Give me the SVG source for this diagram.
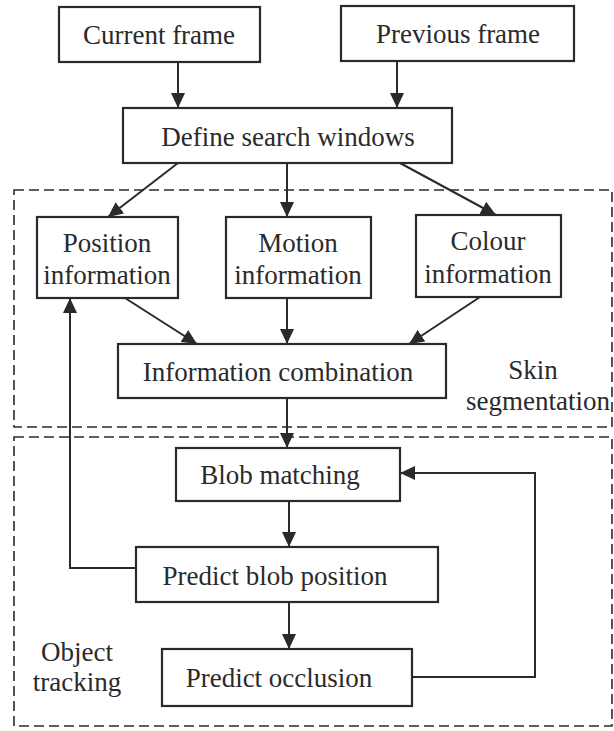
<svg xmlns="http://www.w3.org/2000/svg" width="614" height="731" viewBox="0 0 614 731">
<style>
.box{fill:#fff;stroke:#2a2a2a;stroke-width:2.2}
.t{font-family:"Liberation Serif","Times New Roman",serif;font-size:27px;fill:#2a2a2a;text-anchor:middle}
.c{fill:none;stroke:#2a2a2a;stroke-width:2}
.region{fill:none;stroke:#2a2a2a;stroke-width:1.6;stroke-dasharray:10 5}
</style>
<defs>
<marker id="ah" markerUnits="userSpaceOnUse" markerWidth="16" markerHeight="14" refX="15" refY="7" orient="auto">
<path d="M0,0 L15,7 L0,14 Z" fill="#2a2a2a"/>
</marker>
</defs>
<g id="regions">
<rect id="skin-region" class="region" x="14" y="190" width="598" height="237"/>
<rect id="tracking-region" class="region" x="14" y="437" width="598" height="289"/>
<text class="t" x="533" y="379">Skin</text>
<text class="t" x="538" y="410">segmentation</text>
<text class="t" x="77" y="661">Object</text>
<text class="t" x="77" y="691">tracking</text>
</g>
<g id="connectors">
<line class="c" x1="178" y1="62" x2="178" y2="108" marker-end="url(#ah)"/>
<line class="c" x1="397" y1="61" x2="397" y2="108" marker-end="url(#ah)"/>
<line class="c" x1="178" y1="163" x2="108" y2="217" marker-end="url(#ah)"/>
<line class="c" x1="287" y1="163" x2="287" y2="217" marker-end="url(#ah)"/>
<line class="c" x1="400" y1="163" x2="496" y2="215" marker-end="url(#ah)"/>
<line class="c" x1="125" y1="298" x2="197" y2="344" marker-end="url(#ah)"/>
<line class="c" x1="287" y1="298" x2="287" y2="344" marker-end="url(#ah)"/>
<line class="c" x1="480" y1="297" x2="409" y2="344" marker-end="url(#ah)"/>
<line class="c" x1="287" y1="398" x2="287" y2="448" marker-end="url(#ah)"/>
<line class="c" x1="289" y1="501" x2="289" y2="547" marker-end="url(#ah)"/>
<line class="c" x1="289" y1="602" x2="289" y2="649" marker-end="url(#ah)"/>
<polyline class="c" points="412,677 535,677 535,473 400,473" marker-end="url(#ah)"/>
<polyline class="c" points="136,568 70,568 70,298" marker-end="url(#ah)"/>
</g>
<g id="current-frame">
<rect class="box" x="59" y="7" width="201" height="55"/>
<text class="t" x="159" y="44">Current frame</text>
</g>
<g id="previous-frame">
<rect class="box" x="341" y="6" width="233" height="55"/>
<text class="t" x="458" y="43">Previous frame</text>
</g>
<g id="define-search-windows">
<rect class="box" x="123" y="108" width="329" height="55"/>
<text class="t" x="288" y="146">Define search windows</text>
</g>
<g id="position-information">
<rect class="box" x="37" y="217" width="141" height="81"/>
<text class="t" x="107" y="252">Position</text>
<text class="t" x="107" y="284">information</text>
</g>
<g id="motion-information">
<rect class="box" x="226" y="217" width="145" height="81"/>
<text class="t" x="298" y="252">Motion</text>
<text class="t" x="298" y="284">information</text>
</g>
<g id="colour-information">
<rect class="box" x="416" y="215" width="145" height="82"/>
<text class="t" x="488" y="250">Colour</text>
<text class="t" x="488" y="283">information</text>
</g>
<g id="information-combination">
<rect class="box" x="118" y="344" width="328" height="54"/>
<text class="t" x="278" y="381">Information combination</text>
</g>
<g id="blob-matching">
<rect class="box" x="176" y="448" width="224" height="53"/>
<text class="t" x="280" y="484">Blob matching</text>
</g>
<g id="predict-blob-position">
<rect class="box" x="136" y="547" width="302" height="55"/>
<text class="t" x="275" y="585">Predict blob position</text>
</g>
<g id="predict-occlusion">
<rect class="box" x="162" y="649" width="250" height="57"/>
<text class="t" x="279" y="687">Predict occlusion</text>
</g>
</svg>
